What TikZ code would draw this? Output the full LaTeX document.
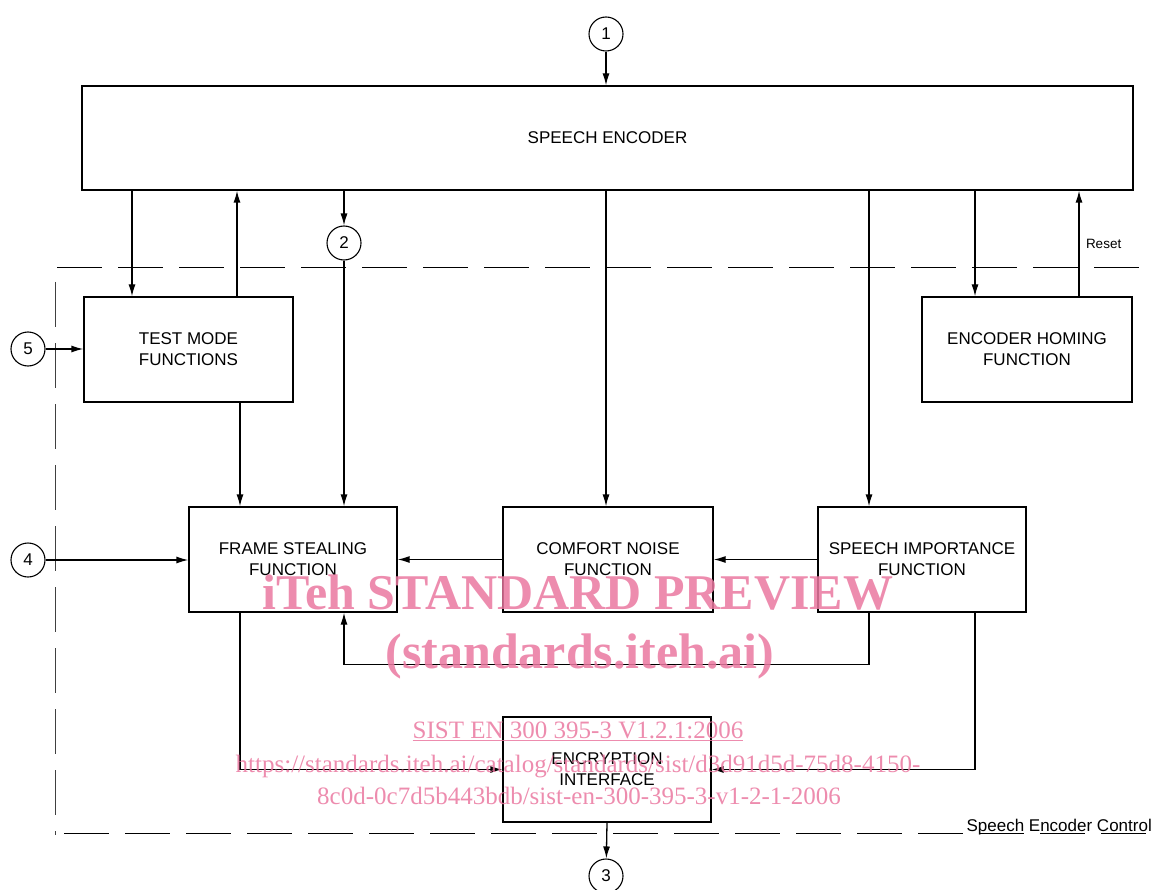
\documentclass[tikz,border=0pt]{standalone}
\usepackage{fontspec}
\setmainfont{Liberation Sans}
\newfontfamily\wmfont{Liberation Serif}
\usetikzlibrary{arrows.meta}
\definecolor{wm}{RGB}{234,120,160}
\begin{document}
\begin{tikzpicture}[x=1pt,y=-1pt,
  blk/.style={draw, line width=1.3pt, inner sep=0pt, align=center, font=\fontsize{17}{21}\selectfont},
  num/.style={circle, draw, line width=1.1pt, minimum size=34pt, inner sep=0pt, font=\fontsize{17}{17}\selectfont},
  arr/.style={line width=1.3pt, -{Latex[length=12pt,width=7pt]}},
  bnd/.style={line width=1pt, dash pattern=on 45pt off 16pt},
  wmtext/.style={text=wm, inner sep=0pt, anchor=base}
]
\useasboundingbox (0,0) rectangle (1155,890);

% boundary
\draw[bnd] (57,268) -- (1150,268);
\draw[bnd, black!75] (55,282) -- (55,835);
\draw[bnd] (64,833) -- (1152,833);

% helper x positions
\coordinate (x132) at (132,0);
\coordinate (x237) at (237,0);
\coordinate (x240) at (240,0);
\coordinate (x606) at (606,0);
\coordinate (x869) at (869,0);
\coordinate (x975) at (975,0);
\coordinate (x1079) at (1079,0);

% blocks
\node[blk, minimum width=1051pt, minimum height=104pt] (se) at (607.5,138) {SPEECH ENCODER};
\node[blk, minimum width=209pt, minimum height=105pt] (tm) at (188.5,349.5) {TEST MODE\\FUNCTIONS};
\node[blk, minimum width=210pt, minimum height=105pt] (eh) at (1027,349.5) {ENCODER HOMING\\FUNCTION};
\node[blk, minimum width=208pt, minimum height=105pt] (fs) at (293,559.5) {FRAME STEALING\\FUNCTION};
\node[blk, minimum width=210pt, minimum height=105pt] (cn) at (608,559.5) {COMFORT NOISE\\FUNCTION};
\node[blk, minimum width=208pt, minimum height=105pt] (si) at (922,559.5) {SPEECH IMPORTANCE\\FUNCTION};
\node[blk, minimum width=208pt, minimum height=105pt] (ei) at (607,769.5) {ENCRYPTION\\INTERFACE};

% numbered circles
\node[num] (c1) at (606,34) {1};
\node[num] (c2) at (344,243) {2};
\node[num] (c3) at (606,876) {3};
\node[num] (c4) at (28,560) {4};
\node[num] (c5) at (28,349) {5};

% connectors
\draw[arr] (c1) -- (c1 |- se.north);
\draw[arr] (se.south -| x132) -- (tm.north -| x132);
\draw[arr] (tm.north -| x237) -- (se.south -| x237);
\draw[arr] (se.south -| c2) -- (c2);
\draw[arr] (c2) -- (fs.north -| c2);
\draw[arr] (se.south -| x606) -- (cn.north -| x606);
\draw[arr] (se.south -| x869) -- (si.north -| x869);
\draw[arr] (se.south -| x975) -- (eh.north -| x975);
\draw[arr] (eh.north -| x1079) -- (se.south -| x1079) node[pos=0.5, right=3pt, font=\fontsize{13.5}{13.5}\selectfont] (rs) {Reset};
\draw[arr] (c5) -- (c5 -| tm.west);
\draw[arr] (c4) -- (c4 -| fs.west);
\draw[arr] (tm.south -| x240) -- (fs.north -| x240);
\draw[arr] (cn.west) -- (fs.east);
\draw[arr] (si.west) -- (cn.east);
\draw[arr] (si.south -| x869) -- ++(0,52) -| (fs.south -| c2);
\draw[arr] (fs.south -| x240) |- (ei.west);
\draw[arr] (si.south -| x975) |- (ei.east);
\draw[arr] (ei.south) -- (c3);

\node[anchor=base east, inner sep=0pt, font=\fontsize{17}{17}\selectfont] (sec) at (1152,831) {Speech Encoder Control};

% watermark
\begin{scope}[opacity=0.85]
\node[wmtext, font=\wmfont\bfseries\fontsize{50}{50}\selectfont] (w1) at (578,609) {iTeh STANDARD PREVIEW};
\node[wmtext, font=\wmfont\bfseries\fontsize{50}{50}\selectfont] (w2) at (580,668) {(standards.iteh.ai)};
\node[wmtext, font=\wmfont\fontsize{25}{25}\selectfont] (w3) at (578,738) {\underline{SIST EN 300 395-3 V1.2.1:2006}};
\node[wmtext, font=\wmfont\fontsize{25}{25}\selectfont] (w4) at (578,772) {https://standards.iteh.ai/catalog/standards/sist/d3d91d5d-75d8-4150-};
\node[wmtext, font=\wmfont\fontsize{25}{25}\selectfont] (w5) at (579,804) {8c0d-0c7d5b443bdb/sist-en-300-395-3-v1-2-1-2006};
\end{scope}
\end{tikzpicture}
\end{document}
